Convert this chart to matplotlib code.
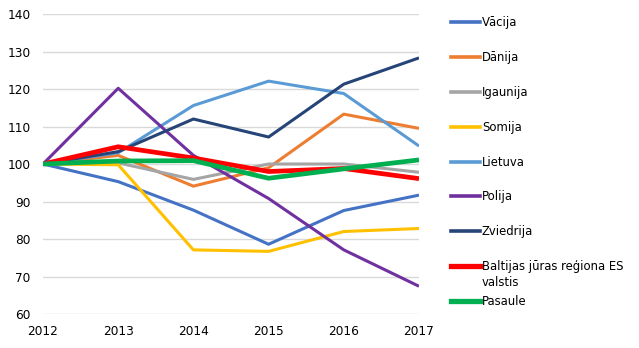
import matplotlib.pyplot as plt
from matplotlib.lines import Line2D

plt.rcParams['font.family'] = 'DejaVu Sans'

gadi = [2012, 2013, 2014, 2015, 2016, 2017]

vacija = [100, 95.3, 87.7, 78.6, 87.6, 91.7]
danija = [100, 102.3, 94.1, 99.0, 113.3, 109.5]
igaunija = [100, 100.3, 95.9, 100.0, 100.0, 97.8]
somija = [100, 99.8, 77.1, 76.7, 82.0, 82.8]
lietuva = [100, 103.0, 115.6, 122.1, 118.8, 104.8]
polija = [100, 120.2, 102.3, 90.8, 77.1, 67.4]
zviedrija = [100, 103.3, 112.0, 107.2, 121.3, 128.3]
baltija = [100, 104.6, 101.6, 98.0, 98.8, 96.1]
pasaule = [100, 100.8, 100.9, 96.2, 98.7, 101.1]

nosaukumi = ['Vācija', 'Dānija', 'Igaunija', 'Somija', 'Lietuva', 'Polija',
             'Zviedrija', 'Baltijas jūras reģiona ES\nvalstis', 'Pasaule']
krasas = ['#4472C4', '#ED7D31', '#A5A5A5', '#FFC000', '#5B9BD5', '#7030A0',
          '#264478', '#FF0000', '#00B050']
biezums = [2.2, 2.2, 2.2, 2.2, 2.2, 2.2, 2.2, 3.4, 3.4]
rindas = [vacija, danija, igaunija, somija, lietuva, polija, zviedrija, baltija, pasaule]

fig = plt.figure(figsize=(6.39, 3.48), dpi=100)
ax = fig.add_axes([0.0673, 0.0977, 0.5884, 0.862])

for y, c, lw in zip(rindas, krasas, biezums):
    ax.plot(gadi, y, color=c, linewidth=lw, solid_capstyle='butt', zorder=3)

ax.set_xlim(2012, 2017)
ax.set_ylim(60, 140)
ax.set_yticks(range(60, 141, 10))
ax.set_xticks(gadi)
ax.grid(axis='y', color='#D9D9D9', linewidth=1)
ax.set_axisbelow(True)
for s in ax.spines.values():
    s.set_visible(False)
ax.tick_params(length=0, labelsize=8.7, colors='#000000')
ax.tick_params(axis='y', pad=9)
ax.tick_params(axis='x', pad=8)

# legenda
W, H = 639, 348
ly = [22, 57, 92, 127, 162, 196, 231, 266, 301]
for n, c, lw, yy in zip(nosaukumi, krasas, biezums, ly):
    fig.add_artist(Line2D([451 / W, 480 / W], [1 - yy / H, 1 - yy / H],
                          color=c, linewidth=lw + 0.4, transform=fig.transFigure))
    fig.text(482 / W, 1 - (yy - 6) / H, n, fontsize=8.4, va='top', ha='left',
             linespacing=1.35)

fig.savefig('out.png', dpi=100)
